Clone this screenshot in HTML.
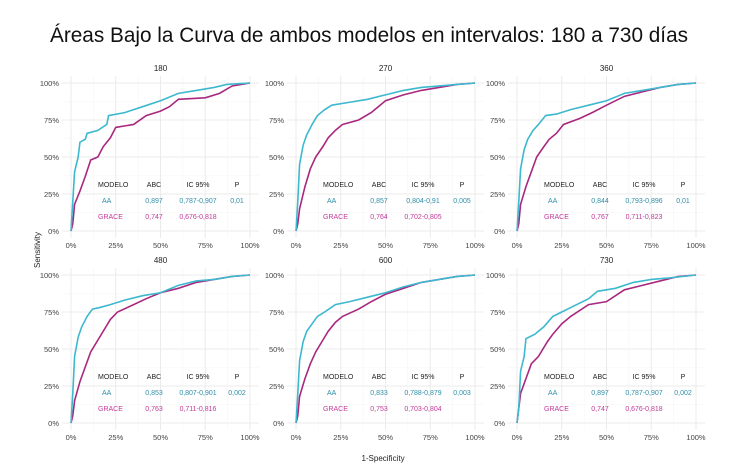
<!DOCTYPE html>
<html><head><meta charset="utf-8">
<style>
body{margin:0;background:#fff;width:750px;height:469px;overflow:hidden;font-family:"Liberation Sans",sans-serif;}
</style></head>
<body>
<svg id="chart" width="750" height="469" viewBox="0 0 750 469">
<text x="50" y="42" textLength="638" lengthAdjust="spacingAndGlyphs" font-size="21" fill="#111">Áreas Bajo la Curva de ambos modelos en intervalos: 180 a 730 días</text>
<text x="0" y="0" transform="translate(40,250) rotate(-90)" text-anchor="middle" font-size="8" fill="#222">Sensitivity</text>
<text x="383" y="461" text-anchor="middle" font-size="8" fill="#222">1-Specificity</text>
</svg>
<script>
const panelTitles=["180","270","360","480","600","730"];
const ticks=[0,0.25,0.5,0.75,1];
const tickLabels=["0%","25%","50%","75%","100%"];
const aaAUC=["0,897","0,857","0,844","0,853","0,833","0,897"];
const aaCI=["0,787-0,907","0,804-0,91","0,793-0,896","0,807-0,901","0,788-0,879","0,787-0,907"];
const pVals=["0,01","0,005","0,01","0,002","0,003","0,002"];
const graceAUC=["0,747","0,764","0,767","0,763","0,753","0,747"];
const graceCI=["0,676-0,818","0,702-0,805","0,711-0,823","0,711-0,816","0,703-0,804","0,676-0,818"];
const aaFPR=[
[0,0.01,0.02,0.04,0.05,0.08,0.09,0.15,0.2,0.21,0.3,0.4,0.5,0.6,0.7,0.8,0.87,1],
[0,0.01,0.02,0.04,0.06,0.09,0.12,0.16,0.2,0.3,0.4,0.5,0.6,0.7,0.8,0.9,1],
[0,0.01,0.02,0.04,0.06,0.09,0.12,0.16,0.22,0.3,0.4,0.5,0.6,0.7,0.8,0.9,1],
[0,0.01,0.02,0.04,0.06,0.09,0.12,0.16,0.22,0.3,0.4,0.5,0.6,0.7,0.8,0.9,1],
[0,0.01,0.02,0.04,0.06,0.09,0.12,0.16,0.22,0.3,0.4,0.5,0.6,0.7,0.8,0.9,1],
[0,0.01,0.02,0.04,0.05,0.1,0.15,0.2,0.25,0.3,0.4,0.45,0.55,0.65,0.75,0.85,1]];
const aaTPR=[
[0,0.2,0.4,0.5,0.6,0.62,0.66,0.68,0.72,0.78,0.8,0.84,0.88,0.93,0.95,0.97,0.99,1],
[0,0.2,0.45,0.58,0.65,0.72,0.78,0.82,0.85,0.87,0.89,0.92,0.95,0.97,0.98,0.99,1],
[0,0.2,0.42,0.55,0.62,0.68,0.72,0.78,0.79,0.82,0.85,0.88,0.93,0.95,0.97,0.99,1],
[0,0.2,0.45,0.58,0.65,0.72,0.77,0.78,0.8,0.83,0.86,0.88,0.93,0.96,0.97,0.99,1],
[0,0.2,0.42,0.55,0.62,0.67,0.72,0.75,0.8,0.82,0.85,0.88,0.92,0.95,0.97,0.99,1],
[0,0.1,0.35,0.45,0.57,0.6,0.65,0.72,0.75,0.78,0.84,0.89,0.91,0.95,0.97,0.98,1]];
const grFPR=[
[0,0.01,0.02,0.05,0.08,0.11,0.15,0.18,0.22,0.25,0.35,0.42,0.5,0.55,0.6,0.75,0.83,0.9,1],
[0,0.01,0.02,0.05,0.08,0.11,0.15,0.18,0.22,0.26,0.35,0.42,0.5,0.6,0.7,0.8,0.9,1],
[0,0.01,0.02,0.05,0.08,0.11,0.15,0.18,0.22,0.26,0.35,0.42,0.5,0.6,0.7,0.8,0.9,1],
[0,0.01,0.02,0.05,0.08,0.11,0.15,0.18,0.22,0.26,0.35,0.42,0.5,0.6,0.7,0.8,0.9,1],
[0,0.01,0.02,0.05,0.08,0.11,0.15,0.18,0.22,0.26,0.35,0.42,0.5,0.6,0.7,0.8,0.9,1],
[0,0.01,0.02,0.05,0.08,0.12,0.17,0.2,0.25,0.3,0.4,0.5,0.6,0.7,0.8,0.9,1]];
const grTPR=[
[0,0.05,0.18,0.27,0.37,0.48,0.5,0.57,0.63,0.7,0.72,0.78,0.81,0.84,0.89,0.9,0.93,0.98,1],
[0,0.05,0.15,0.3,0.42,0.5,0.57,0.63,0.68,0.72,0.75,0.8,0.88,0.92,0.95,0.97,0.99,1],
[0,0.05,0.18,0.3,0.4,0.5,0.57,0.62,0.66,0.72,0.76,0.8,0.85,0.91,0.94,0.97,0.99,1],
[0,0.05,0.15,0.28,0.38,0.48,0.56,0.62,0.7,0.75,0.8,0.84,0.88,0.91,0.95,0.97,0.99,1],
[0,0.05,0.18,0.3,0.4,0.48,0.56,0.62,0.68,0.72,0.77,0.82,0.87,0.91,0.95,0.97,0.99,1],
[0,0.1,0.2,0.3,0.4,0.45,0.55,0.6,0.67,0.72,0.8,0.82,0.9,0.93,0.96,0.99,1]];
const svg=document.getElementById('chart');
const NS='http://www.w3.org/2000/svg';
const colX=[71,296,517], rowY=[83,275], W=179, H=148;
function mk(tag,attrs,parent){const e=document.createElementNS(NS,tag);for(const k in attrs)e.setAttribute(k,attrs[k]);(parent||svg).appendChild(e);return e;}
for(let p=0;p<6;p++){
  const x0=colX[p%3], y0=rowY[Math.floor(p/3)];
  const g=mk('g',{});
  
  
  const sx=v=>x0+v*W, sy=v=>y0+H-v*H;
  for(let i=0;i<=8;i++){
    const v=i/8, maj=i%2==0;
    mk('line',{x1:sx(v),x2:sx(v),y1:y0-7,y2:y0+H+7,stroke:maj?'#ebebeb':'#f5f5f5','stroke-width':maj?1:0.6},g);
    mk('line',{x1:x0-9,x2:x0+W+9,y1:sy(v),y2:sy(v),stroke:maj?'#ebebeb':'#f5f5f5','stroke-width':maj?1:0.6},g);
  }
  const t=mk('text',{x:x0+W/2,y:y0-12,'text-anchor':'middle','font-size':8,fill:'#222'},g);
  t.textContent=panelTitles[p];
  
  
  ticks.forEach((v,i)=>{
    const a=mk('text',{x:x0-12,y:sy(v)+3,'text-anchor':'end','font-size':7.5,fill:'#444'},g);a.textContent=tickLabels[i];
    
    
    const b=mk('text',{x:sx(v),y:y0+H+17,'text-anchor':'middle','font-size':7.5,fill:'#444'},g);b.textContent=tickLabels[i];
    
    
  });
  const gp=mk('polyline',{points:grFPR[p].map((v,i)=>sx(v)+','+sy(grTPR[p][i])).join(' '),fill:'none',stroke:'#a8287f','stroke-width':1.6},g);
  
  
  const ap=mk('polyline',{points:aaFPR[p].map((v,i)=>sx(v)+','+sy(aaTPR[p][i])).join(' '),fill:'none',stroke:'#3cb8cf','stroke-width':1.6},g);
  
  
  const rows=[["MODELO","ABC","IC 95%","P","#222"],["AA",aaAUC[p],aaCI[p],pVals[p],"#2e8fa9"],["GRACE",graceAUC[p],graceCI[p],"","#c23a9a"]];
  rows.forEach((r,ri)=>{
    const yy=y0+104+ri*16;
    [[r[0],x0+(ri==1?31:27),'start'],[r[1],x0+83,'middle'],[r[2],x0+127,'middle'],[r[3],x0+166,'middle']].forEach(c=>{
      const tt=mk('text',{x:c[1],y:yy,'text-anchor':c[2],'font-size':7,fill:r[4]},g);tt.textContent=c[0];
      
      
    });
  });
}
</script>
</body></html>
